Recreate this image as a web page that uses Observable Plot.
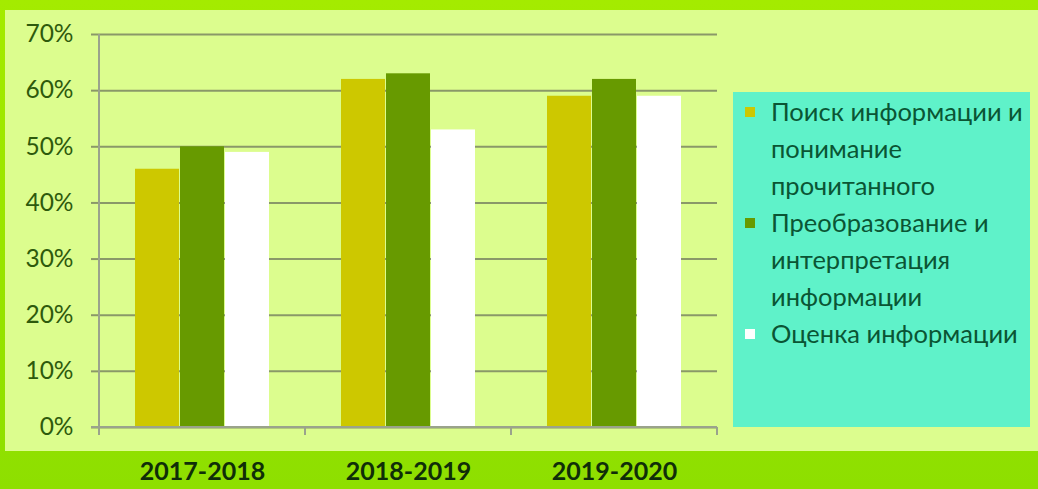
<!DOCTYPE html>
<html>
<head>
<meta charset="utf-8">
<script src="https://cdn.jsdelivr.net/npm/d3@7"></script>
<script src="https://cdn.jsdelivr.net/npm/@observablehq/plot@0.6"></script>
<style>
  body { margin: 0; }
  #wrap { position: relative; width: 1038px; height: 489px; overflow: hidden;
          background: linear-gradient(#a4eb00, #8edf00); font-family: Lato, sans-serif; }
  #panel { position: absolute; left: 5px; top: 10px; width: 1033px; height: 441px; background: #dcfd8e; }
  #chart { position: absolute; left: 0; top: 0; }
  #legend { position: absolute; left: 733px; top: 92px; width: 297px; height: 335px;
            background: #5ff2c9; box-sizing: border-box; padding: 1px 0 0 12px; }
  .item { display: flex; align-items: flex-start; }
  .sw { width: 10px; height: 10px; flex: 0 0 10px; margin-top: 14px; margin-right: 16px; }
  .lbl { font-size: 25.5px; line-height: 37px; color: #0a5534; white-space: nowrap; }
</style>
</head>
<body>
<div id="wrap">
  <div id="panel"></div>
  <div id="chart"></div>
  <div id="legend"></div>
</div>
<script>
const categories = ["2017-2018", "2018-2019", "2019-2020"];
const series = [
  "Поиск информации и понимание прочитанного",
  "Преобразование и интерпретация информации",
  "Оценка информации"
];
const legendLines = [
  ["Поиск информации и", "понимание", "прочитанного"],
  ["Преобразование и", "интерпретация", "информации"],
  ["Оценка информации"]
];
const searchValues = [0.46, 0.62, 0.59];
const transformValues = [0.50, 0.63, 0.62];
const evaluationValues = [0.49, 0.53, 0.59];
const yTicks = [0, 0.1, 0.2, 0.3, 0.4, 0.5, 0.6, 0.7];
const colors = ["#cdc800", "#679a00", "#ffffff"];

const seriesValues = [searchValues, transformValues, evaluationValues];
const rows = categories.flatMap((cat, i) =>
  series.map((s, j) => ({cat, series: s, value: seriesValues[j][i]})));

const gridColor = "#8a9868";

const plot = Plot.plot({
  width: 1038,
  height: 489,
  marginLeft: 98,
  marginRight: 320,
  marginTop: 34,
  marginBottom: 62,
  style: {background: "transparent", color: gridColor, fontFamily: "Lato, sans-serif", fontSize: "22px", overflow: "visible"},
  facet: {data: rows, x: "cat"},
  fx: {domain: categories, padding: 0, label: null, tickSize: 0, tickPadding: 35},
  x: {domain: series, axis: null, paddingInner: 0.03, paddingOuter: 0.76},
  y: {domain: [0, 0.7], ticks: yTicks, tickFormat: d3.format(".0%"), tickSize: 8, tickPadding: 18, label: null},
  color: {domain: series, range: colors},
  marks: [
    Plot.ruleY(yTicks, {stroke: gridColor, strokeWidth: 2}),
    Plot.barY(rows, {x: "series", y: "value", fill: "series"})
  ]
});

const svg = d3.select(plot);
svg.selectAll('[aria-label^="y-axis"] text')
  .attr("fill", "#2e5a0c").style("font-size", "24.5px");
svg.selectAll('[aria-label^="y-axis"] path, [aria-label^="y-axis"] line')
  .attr("stroke-width", 2);
svg.selectAll('[aria-label^="fx-axis"] text')
  .attr("fill", "#0f2e08").style("font-size", "25px").style("font-weight", "bold");

// axis frame built from the library's scales
const fx = plot.scale("fx");
const y = plot.scale("y");
const y0 = y.apply(0), yTop = y.apply(0.7);
const left = fx.apply(categories[0]);
const right = fx.apply(categories[categories.length - 1]) + fx.bandwidth;
const g = svg.append("g").attr("stroke", "#9aa38c").attr("stroke-width", 2);
g.append("line").attr("x1", left).attr("x2", left).attr("y1", yTop).attr("y2", y0 + 8);
g.append("line").attr("x1", left - 8).attr("x2", right).attr("y1", y0).attr("y2", y0);
categories.forEach((c, i) => {
  if (i > 0) {
    const x = fx.apply(c);
    g.append("line").attr("x1", x).attr("x2", x).attr("y1", y0).attr("y2", y0 + 8);
  }
});
g.append("line").attr("x1", right).attr("x2", right).attr("y1", y0).attr("y2", y0 + 8);

document.getElementById("chart").append(plot);

// legend
const legend = d3.select("#legend");
series.forEach((s, i) => {
  const item = legend.append("div").attr("class", "item").attr("title", s);
  item.append("div").attr("class", "sw").style("background", colors[i]);
  item.append("div").attr("class", "lbl").html(legendLines[i].join("<br>"));
});
</script>
</body>
</html>
